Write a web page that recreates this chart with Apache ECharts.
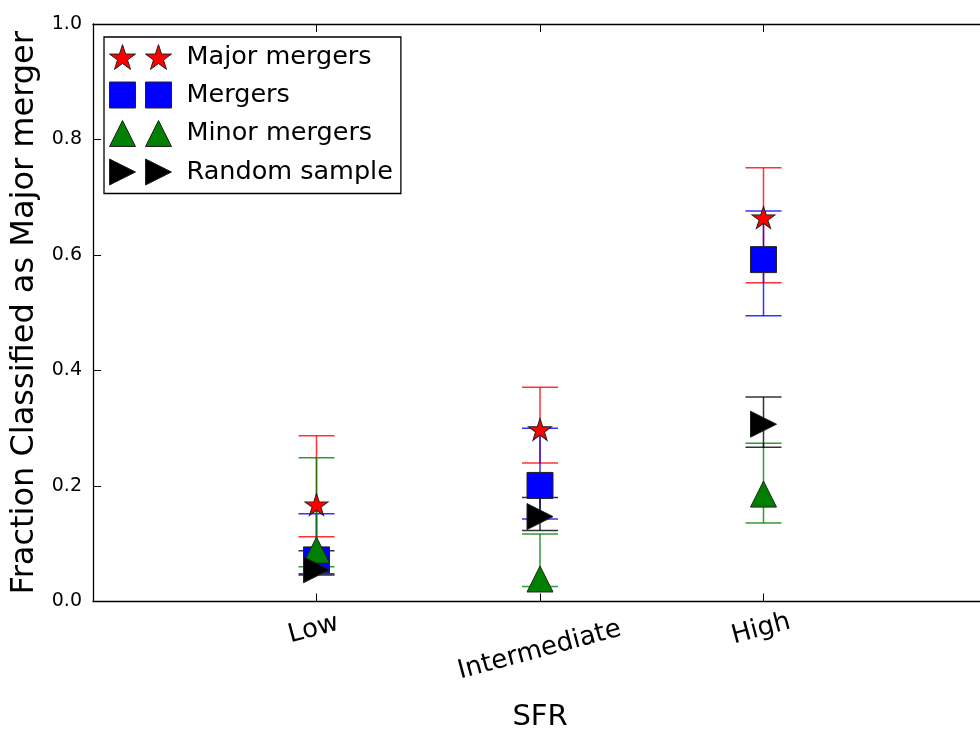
<!DOCTYPE html>
<html>
<head>
<meta charset="utf-8">
<script src="https://cdn.jsdelivr.net/npm/echarts@6/dist/echarts.min.js"></script>
<style>
  html, body { margin: 0; padding: 0; background: #ffffff; }
  #chart { width: 980px; height: 733px; }
</style>
</head>
<body>
<div id="chart"></div>
<script>
// SFR bins along the x axis (placed at positions 1, 2, 3)
const categories = ['Low', 'Intermediate', 'High'];
const categoryPositions = [1, 2, 3];

// Fraction classified as major merger, with lower / upper error bounds
const majorValues = [0.168, 0.298, 0.665];
const majorLower  = [0.112, 0.240, 0.552];
const majorUpper  = [0.287, 0.371, 0.751];

const mergerValues = [0.072, 0.201, 0.592];
const mergerLower  = [0.048, 0.143, 0.495];
const mergerUpper  = [0.152, 0.300, 0.676];

const minorValues = [0.089, 0.039, 0.186];
const minorLower  = [0.060, 0.026, 0.136];
const minorUpper  = [0.249, 0.117, 0.274];

const randomValues = [0.055, 0.147, 0.307];
const randomLower  = [0.046, 0.123, 0.267];
const randomUpper  = [0.088, 0.180, 0.354];

const seriesNames = ['Major mergers', 'Mergers', 'Minor mergers', 'Random sample'];

const FONT = 'DejaVu Sans';

// Five-pointed star outline as SVG path commands
function starPath(cx, cy, R) {
  const r = R * 0.381966;
  let d = '';
  for (let i = 0; i < 10; i++) {
    const rad = (i % 2 === 0) ? R : r;
    const a = -Math.PI / 2 + i * Math.PI / 5;
    const x = (cx + rad * Math.cos(a)).toFixed(3);
    const y = (cy + rad * Math.sin(a)).toFixed(3);
    d += (i === 0 ? 'M' : 'L') + x + ',' + y;
  }
  return d + 'Z';
}
function upTri(x0) { return 'M' + x0 + ',26L' + (x0 + 13) + ',0L' + (x0 + 26) + ',26Z'; }
function rightTri(x0) { return 'M' + x0 + ',0L' + (x0 + 26) + ',13L' + x0 + ',26Z'; }
function square(x0) { return 'M' + x0 + ',0L' + (x0 + 26) + ',0L' + (x0 + 26) + ',26L' + x0 + ',26Z'; }

const starSymbol = 'path://' + starPath(0, 0, 12);
const rightSymbol = 'path://' + rightTri(0);

// Legend icons show a pair of markers for each entry
const legendIcons = [
  'path://' + starPath(13, 13, 13.7) + starPath(49, 13, 13.7),
  'path://' + square(0) + square(36),
  'path://' + upTri(0) + upTri(36),
  'path://' + rightTri(0) + rightTri(36)
];

const colors = ['#ff0000', '#0000ff', '#008000', '#000000'];
const barColors = ['rgba(255,0,0,0.8)', 'rgba(0,0,255,0.8)', 'rgba(0,128,0,0.8)', 'rgba(0,0,0,0.8)'];
const markerSymbols = [starSymbol, 'rect', 'triangle', rightSymbol];
const markerSizes = [[23, 22], 26, 26, 26];

const valueSets = [majorValues, mergerValues, minorValues, randomValues];
const lowerSets = [majorLower, mergerLower, minorLower, randomLower];
const upperSets = [majorUpper, mergerUpper, minorUpper, randomUpper];

function errorBarRenderer(color) {
  return function (params, api) {
    const x = api.value(0);
    const lo = api.coord([x, api.value(1)]);
    const hi = api.coord([x, api.value(2)]);
    const half = 18;
    const style = { stroke: color, lineWidth: 1.5, fill: null };
    return {
      type: 'group',
      children: [
        { type: 'line', shape: { x1: lo[0], y1: lo[1], x2: hi[0], y2: hi[1] }, style: style },
        { type: 'line', shape: { x1: lo[0] - half, y1: lo[1], x2: lo[0] + half, y2: lo[1] }, style: style },
        { type: 'line', shape: { x1: hi[0] - half, y1: hi[1], x2: hi[0] + half, y2: hi[1] }, style: style }
      ]
    };
  };
}

const series = [];
seriesNames.forEach(function (name, k) {
  series.push({
    name: name,
    type: 'custom',
    z: 2,
    renderItem: errorBarRenderer(barColors[k]),
    encode: { x: 0, y: [1, 2] },
    data: categoryPositions.map(function (p, i) { return [p, lowerSets[k][i], upperSets[k][i]]; }),
    silent: true
  });
});
seriesNames.forEach(function (name, k) {
  series.push({
    name: name,
    type: 'scatter',
    z: 3 + k,
    symbol: markerSymbols[k],
    symbolSize: markerSizes[k],
    itemStyle: { color: colors[k], borderColor: '#222222', borderWidth: 1, opacity: 1 },
    data: categoryPositions.map(function (p, i) { return [p, valueSets[k][i]]; })
  });
});

const axisLineStyle = { color: '#000000', width: 1.3 };

const option = {
  animation: false,
  backgroundColor: '#ffffff',
  // the axes box runs slightly past the right edge of the canvas
  grid: {
    left: 93, top: 24, width: 894, height: 577.5,
    containLabel: false,
    outerBoundsMode: 'none'
  },
  legend: {
    orient: 'vertical',
    left: 104,
    top: 37,
    padding: [7, 8, 8, 5],
    itemGap: 11.5,
    itemWidth: 62,
    itemHeight: 26,
    borderColor: '#000000',
    borderWidth: 1.3,
    borderRadius: 0,
    backgroundColor: '#ffffff',
    selectedMode: false,
    textStyle: { fontFamily: FONT, fontSize: 25.5, color: '#000000', padding: [0, 0, 0, 10] },
    data: seriesNames.map(function (name, k) {
      return {
        name: name,
        icon: legendIcons[k],
        itemStyle: { color: colors[k], borderColor: '#222222', borderWidth: 1 }
      };
    })
  },
  xAxis: [
    {
      type: 'value',
      min: 0,
      max: 4,
      interval: 1,
      position: 'bottom',
      name: 'SFR',
      nameLocation: 'middle',
      nameGap: 101,
      nameTextStyle: { fontFamily: FONT, fontSize: 29, color: '#000000' },
      axisLine: { show: true, lineStyle: axisLineStyle },
      axisTick: { show: true, inside: true, length: 8, lineStyle: { color: '#000000', width: 1 } },
      splitLine: { show: false },
      axisLabel: {
        rotate: 15,
        margin: 27,
        align: 'center',
        verticalAlign: 'middle',
        fontFamily: FONT,
        fontSize: 26,
        color: '#000000',
        formatter: function (v) {
          const i = categoryPositions.indexOf(Math.round(v));
          if (i < 0) return '';
          return '{c' + i + '|' + categories[i] + '}';
        },
        rich: {
          c0: { fontFamily: FONT, fontSize: 26, color: '#000000', padding: [0, 6, 0, 0] },
          c1: { fontFamily: FONT, fontSize: 26, color: '#000000', padding: [42, 12, 0, 0] },
          c2: { fontFamily: FONT, fontSize: 26, color: '#000000', padding: [0, 5, 0, 0] }
        }
      }
    },
    {
      type: 'value',
      min: 0,
      max: 4,
      interval: 1,
      position: 'top',
      axisLine: { show: true, lineStyle: axisLineStyle },
      axisTick: { show: true, inside: true, length: 8, lineStyle: { color: '#000000', width: 1 } },
      axisLabel: { show: false },
      splitLine: { show: false }
    }
  ],
  yAxis: {
    type: 'value',
    min: 0,
    max: 1,
    interval: 0.2,
    name: 'Fraction Classified as Major merger',
    nameLocation: 'middle',
    nameGap: 50,
    nameTextStyle: { fontFamily: FONT, fontSize: 32, color: '#000000' },
    axisLine: { show: true, lineStyle: axisLineStyle },
    axisTick: { show: true, inside: true, length: 8, lineStyle: { color: '#000000', width: 1 } },
    splitLine: { show: false },
    axisLabel: {
      margin: 11,
      fontFamily: FONT,
      fontSize: 19,
      color: '#000000',
      formatter: function (v) { return v.toFixed(1); }
    }
  },
  series: series
};

const chart = echarts.init(document.getElementById('chart'), null, { renderer: 'canvas' });
chart.setOption(option);
</script>
</body>
</html>
